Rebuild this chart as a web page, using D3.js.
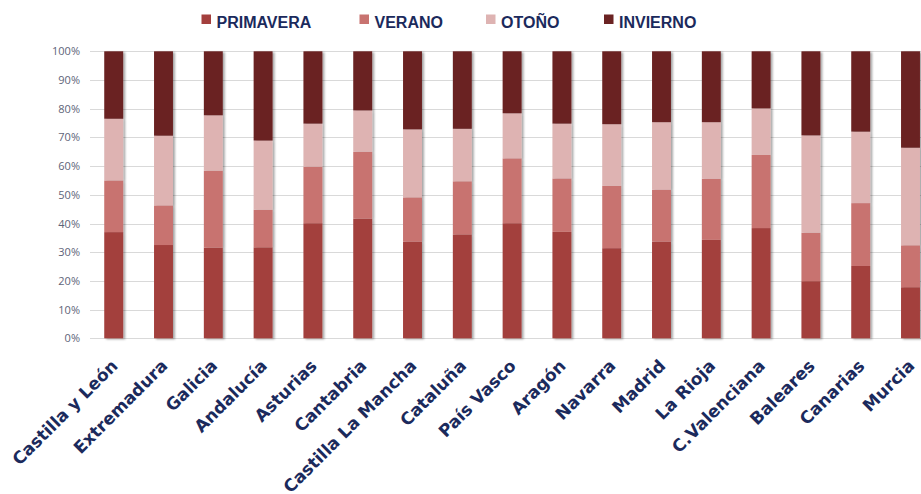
<!DOCTYPE html>
<html>
<head>
<meta charset="utf-8">
<script src="https://cdn.jsdelivr.net/npm/d3@7"></script>
<style>
  html, body { margin: 0; padding: 0; background: #ffffff; }
  svg { display: block; }
</style>
</head>
<body>
<svg id="chart" width="921" height="494"></svg>
<script>
const categories = ["Castilla y León", "Extremadura", "Galicia", "Andalucía", "Asturias", "Cantabria",
  "Castilla La Mancha", "Cataluña", "País Vasco", "Aragón", "Navarra", "Madrid", "La Rioja",
  "C.Valenciana", "Baleares", "Canarias", "Murcia"];
const seriesNames = ["PRIMAVERA", "VERANO", "OTOÑO", "INVIERNO"];
const primavera = [37.0, 32.5, 31.6, 31.7, 40.1, 41.7, 33.7, 36.2, 40.1, 37.1, 31.4, 33.7, 34.3, 38.4, 19.9, 25.2, 17.8];
const verano    = [18.0, 13.8, 26.8, 13.1, 19.7, 23.3, 15.4, 18.5, 22.6, 18.6, 21.7, 18.1, 21.3, 25.5, 16.9, 21.9, 14.6];
const otono     = [21.5, 24.3, 19.3, 24.1, 15.0, 14.4, 23.7, 18.3, 15.7, 19.1, 21.5, 23.5, 19.7, 16.2, 33.9, 24.9, 34.0];
const invierno  = [23.5, 29.4, 22.3, 31.1, 25.2, 20.6, 27.2, 27.0, 21.6, 25.2, 25.4, 24.7, 24.7, 19.9, 29.3, 28.0, 33.6];
const yTicks = [0, 0.1, 0.2, 0.3, 0.4, 0.5, 0.6, 0.7, 0.8, 0.9, 1.0];
const colors = ["#a33f3d", "#c87370", "#deb3b2", "#6b2323"];

const rows = categories.map((c, i) => ({
  cat: c, PRIMAVERA: primavera[i], VERANO: verano[i], "OTOÑO": otono[i], INVIERNO: invierno[i]
}));

const svg = d3.select("#chart");
const navy = "#1b2a5c";

const defs = svg.append("defs");
const f = defs.append("filter").attr("id", "shadow").attr("x", "-20%").attr("y", "-5%").attr("width", "160%").attr("height", "110%");
f.append("feDropShadow").attr("dx", 2).attr("dy", 1).attr("stdDeviation", 1.2)
  .attr("flood-color", "#000").attr("flood-opacity", 0.35);

const x0 = 88.8, step = 49.8;
const x = d3.scaleBand().domain(categories).range([x0, x0 + step * categories.length])
  .paddingInner(0.62).paddingOuter(0.31);
const y = d3.scaleLinear().domain([0, 1]).range([338.3, 51.3]);

// gridlines
svg.append("g").selectAll("line").data(yTicks).join("line")
  .attr("x1", 90).attr("x2", 921)
  .attr("y1", d => Math.round(y(d)) + 0.5).attr("y2", d => Math.round(y(d)) + 0.5)
  .attr("stroke", "#d9d9d9").attr("stroke-width", 1);

// y axis labels
const yAxis = d3.axisLeft(y).tickValues(yTicks).tickFormat(d3.format(".0%")).tickSize(0).tickPadding(0);
const yg = svg.append("g").attr("transform", "translate(80,0)").call(yAxis);
yg.select(".domain").remove();
yg.selectAll("text").attr("font-family", "'Open Sans', sans-serif").attr("font-size", 11)
  .attr("fill", "#5e6478");

// stacked bars
const stack = d3.stack().keys(seriesNames).offset(d3.stackOffsetExpand);
const stacked = stack(rows);
const barG = svg.append("g");
categories.forEach((c, i) => {
  const g = barG.append("g").attr("filter", "url(#shadow)");
  stacked.forEach((s, k) => {
    const d = s[i];
    g.append("rect")
      .attr("x", x(c)).attr("width", x.bandwidth())
      .attr("y", y(d[1])).attr("height", y(d[0]) - y(d[1]))
      .attr("fill", colors[k]);
  });
});

// x labels
const xAxis = d3.axisBottom(x).tickSize(0).tickPadding(0);
const xg = svg.append("g").call(xAxis);
xg.select(".domain").remove();
xg.selectAll(".tick").attr("transform", d => `translate(${x(d) + x.bandwidth() / 2 + 5},367)`);
xg.selectAll("text")
  .attr("transform", "rotate(-45)").attr("text-anchor", "end").attr("dy", 0).attr("y", 0).attr("x", 0)
  .attr("font-family", "'DejaVu Sans', sans-serif").attr("font-weight", "bold").attr("font-size", 17)
  .attr("fill", navy);

// legend
const legendX = [201.5, 359.5, 486, 604];
const lg = svg.append("g");
seriesNames.forEach((n, k) => {
  lg.append("rect").attr("x", legendX[k]).attr("y", 14.5).attr("width", 9.5).attr("height", 9.5).attr("fill", colors[k]);
  lg.append("text").attr("x", legendX[k] + 15).attr("y", 27.5)
    .attr("font-family", "'Liberation Sans', Arial, sans-serif").attr("font-weight", "bold").attr("font-size", 16)
    .attr("fill", navy).text(n);
});
</script>
</body>
</html>
